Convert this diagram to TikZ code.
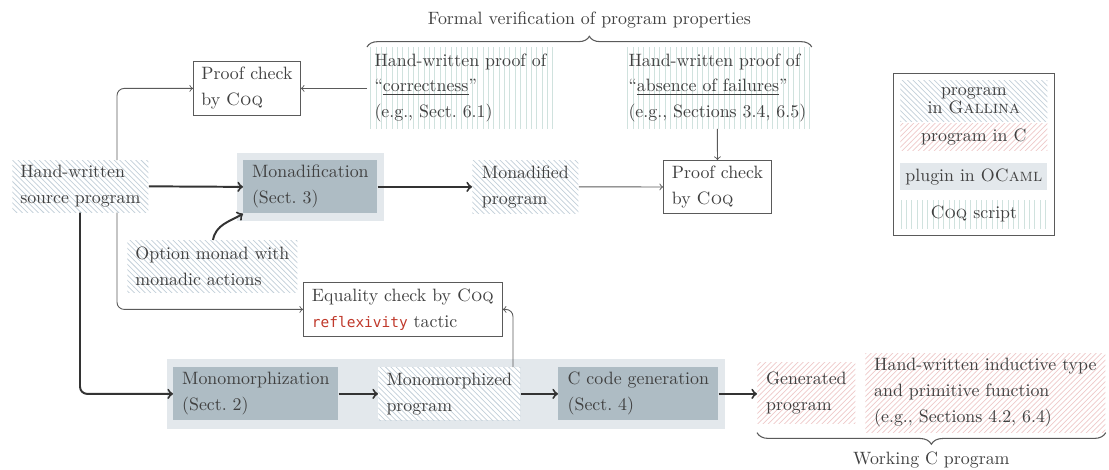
\documentclass[tikz,border=0pt]{standalone}
\usepackage{fontspec}
\newfontfamily\codefont{DejaVu Sans Mono}[Scale=0.81]
\usepackage{tikz}
\usetikzlibrary{patterns, fit, backgrounds, decorations.pathreplacing}

\definecolor{txtgray}{HTML}{404040}
\definecolor{boxgray}{HTML}{5A5A5A}
\definecolor{arrdark}{HTML}{333333}
\definecolor{arrgray}{HTML}{5A5A5A}
\definecolor{galblue}{HTML}{C3D0DA}
\definecolor{cpink}{HTML}{EFCACA}
\definecolor{coqgreen}{HTML}{D0E2DE}
\definecolor{pluglight}{HTML}{E3E8EC}
\definecolor{plugdark}{HTML}{AEBCC4}
\definecolor{codered}{HTML}{C0392B}

\tikzset{
  txt/.style={font=\fontsize{10}{14.5}\selectfont, text=txtgray, align=left, inner sep=2.5pt},
  prf/.style={txt, anchor=north west, draw=boxgray, fill=white, line width=0.5pt},
  gal/.style={txt, anchor=north west, fill=white, postaction={pattern=north west lines, pattern color=galblue}},
  cprog/.style={txt, anchor=north west, fill=white, postaction={pattern=north east lines, pattern color=cpink}},
  coqs/.style={txt, anchor=north west, fill=white, postaction={pattern=vertical lines, pattern color=coqgreen}},
  plug/.style={txt, anchor=north west, fill=plugdark},
  plugbg/.style={fill=pluglight, inner sep=0pt},
  lgd/.style={align=center, font=\fontsize{10}{10}\selectfont, minimum width=82.3pt},
  thk/.style={->, line width=1.1pt, draw=arrdark},
  thn/.style={->, line width=0.5pt, draw=arrgray},
  brc/.style={decorate, line width=0.6pt, draw=arrgray},
}

\begin{document}
\begin{tikzpicture}[x=0.56pt, y=0.56pt]
\useasboundingbox (0,0) rectangle (1109,-469);

\node[prf, minimum width=59.9pt, minimum height=30.2pt] (pc1) at (193,-61) {Proof check\\by \textsc{Coq}};
\node[coqs, minimum width=104.2pt, minimum height=45.4pt] (corr) at (367,-47) {Hand-written proof of\\``\underline{correctness}''\\(e.g., Sect.~6.1)};
\node[coqs, minimum width=105.3pt, minimum height=45.4pt] (fail) at (623,-47) {Hand-written proof of\\``\underline{absence of failures}''\\(e.g., Sections 3.4, 6.5)};
\node[prf, minimum width=60.5pt, minimum height=29.7pt] (pc2) at (663,-160) {Proof check\\by \textsc{Coq}};
\node[gal, minimum width=76.2pt, minimum height=29.1pt] (src) at (12,-160) {Hand-written\\source program};
\node[plug, minimum width=75pt, minimum height=29.7pt] (monad) at (243,-160) {Monadification\\(Sect.~3)};
\node[gal, minimum width=59.4pt, minimum height=29.7pt] (mdf) at (472,-160) {Monadified\\program};
\node[gal, minimum width=95.2pt, minimum height=29.1pt] (opt) at (127,-240) {Option monad with\\monadic actions};
\node[prf, minimum width=111.4pt, minimum height=30.2pt] (eq) at (303,-282) {Equality check by \textsc{Coq}\\{\codefont\color{codered}reflexivity} tactic};
\node[plug, minimum width=92.4pt, minimum height=29.7pt] (mono) at (173,-367) {Monomorphization\\(Sect.~2)};
\node[gal, minimum width=79.5pt, minimum height=29.7pt] (mprog) at (378,-367) {Monomorphized\\program};
\node[plug, minimum width=89.6pt, minimum height=29.7pt] (cgen) at (558,-367) {C code generation\\(Sect.~4)};
\node[cprog, minimum width=54.9pt, minimum height=34.2pt] (gen) at (757,-362) {Generated\\program};
\node[cprog, minimum width=134.4pt, minimum height=44.2pt] (hwc) at (865,-353) {Hand-written inductive type\\and primitive function\\(e.g., Sections 4.2, 6.4)};

\node[gal, lgd, minimum height=23pt] (lgal) at (900,-80) {program\\in \textsc{Gallina}};
\node[cprog, lgd, minimum height=15.1pt] (lc) at (900,-123) {program in C};
\node[plug, lgd, fill=pluglight, minimum height=15.1pt] (lplug) at (900,-163) {plugin in O\textsc{Caml}};
\node[coqs, lgd, minimum height=15.7pt] (lcoq) at (900,-200) {\textsc{Coq} script};
\node[draw=boxgray, line width=0.5pt, inner sep=3.8pt, fit=(lgal)(lcoq)] (legend) {};

\begin{scope}[on background layer]
\node[plugbg, inner xsep=3.4pt, inner ysep=4.5pt, fit=(mono)(mprog)(cgen)] (chain) {};
\node[plugbg, inner xsep=3.4pt, inner ysep=3.8pt, fit=(monad)] (monadbg) {};
\end{scope}

\coordinate (tapa) at (117,0);
\coordinate (tapb) at (80,0);
\coordinate (tapc) at (513,0);
\coordinate (tape) at (213,0);

\draw[thn, rounded corners=4pt] (src.north -| tapa) |- (pc1.west);
\draw[thn, rounded corners=4pt] (src.south -| tapa) |- (eq.west);
\draw[thn] (corr.west |- pc1.east) -- (pc1.east);
\draw[thn] (fail.south) -- (pc2.north);
\draw[thk] (src.east) -- (monad.west);
\draw[thk] (monad.east) -- (mdf.west);
\draw[thn] (mdf.east) -- (pc2.west);
\draw[thk] (opt.north -| tape) to[out=80, in=210] (monad.south west);
\draw[thk, rounded corners=4pt] (src.south -| tapb) |- (mono.west);
\draw[thk] (mono.east) -- (mprog.west);
\draw[thk] (mprog.east) -- (cgen.west);
\draw[thk] (cgen.east) -- (cgen.east -| gen.west);
\draw[thn, rounded corners=4pt] (mprog.north -| tapc) |- (eq.east);

\draw[brc, decoration={brace, amplitude=6pt}] (corr.north west) -- (fail.north east)
  node[txt, midway, above=8pt] (fvl) {Formal verification of program properties};
\draw[brc, decoration={brace, amplitude=6.5pt}] (hwc.south east) -- (hwc.south east -| gen.west)
  node[txt, midway, below=8pt] (wcl) {Working C program};
\end{tikzpicture}
\end{document}
